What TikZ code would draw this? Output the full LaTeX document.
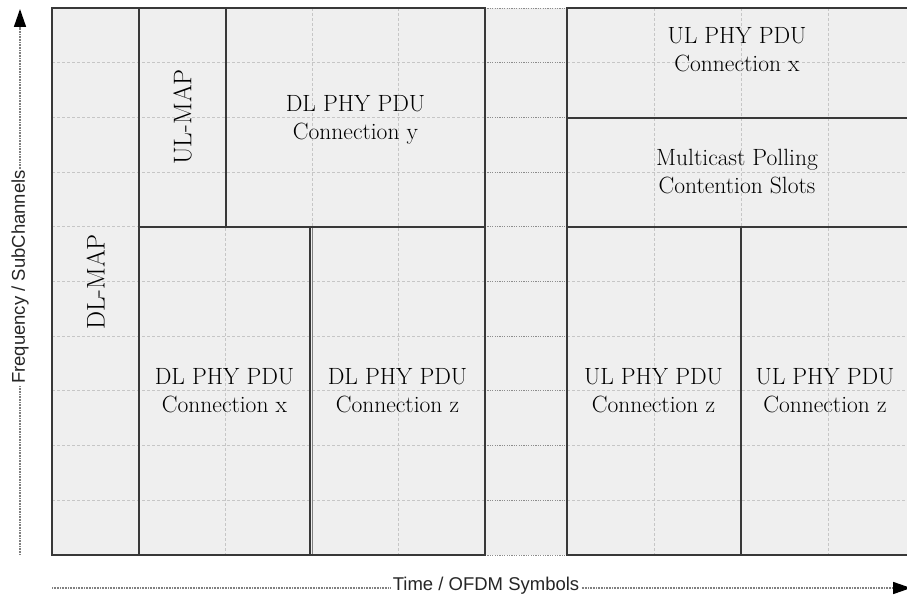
\documentclass[tikz,border=0pt]{standalone}
\usepackage{fontspec}
\newfontfamily\axisfont{Liberation Sans}
\usetikzlibrary{arrows.meta}
\definecolor{slotfill}{HTML}{EFEFEF}
\definecolor{slotline}{HTML}{383838}
\definecolor{gridgray}{HTML}{C6C6C6}
\definecolor{gapgray}{HTML}{8C8C8C}

\tikzset{
  burst/.style={draw=slotline, line width=1.4pt},
  slotgrid/.style={gridgray, line width=0.9pt, dash pattern=on 3pt off 2pt},
  gapgrid/.style={gapgray, line width=0.9pt, dash pattern=on 1.2pt off 1.2pt},
  burstlabel/.style={font=\fontsize{23.5}{28}\selectfont, align=center, text=black},
  maplabel/.style={font=\fontsize{25.5}{28}\selectfont, text=black, rotate=90},
  axislabel/.style={font=\axisfont\fontsize{18.5}{20}\selectfont, fill=white, inner sep=1.5pt, text=black!85},
  axisline/.style={gray, line width=1.6pt, dash pattern=on 1pt off 0.6pt,
    -{Triangle[length=18pt, width=12pt, black]}}
}

\begin{document}
\begin{tikzpicture}[x=1pt, y=-1pt]
  \useasboundingbox (0,0) rectangle (907,596);

  % background of the frame
  \fill[slotfill] (52,8) rectangle (915,555);

  % grid: downlink part
  \foreach \gx in {138.7,225.4,312.1,398.8}
    \draw[slotgrid] (\gx,8) -- (\gx,555);
  \foreach \gy in {62.7,117.4,172.1,226.8,281.5,336.2,390.9,445.6,500.3}
    \draw[slotgrid] (52,\gy) -- (485,\gy);
  % grid: uplink part
  \foreach \gx in {654,741,828}
    \draw[slotgrid] (\gx,8) -- (\gx,555);
  \foreach \gy in {62.7,117.4,172.1,226.8,281.5,336.2,390.9,445.6,500.3}
    \draw[slotgrid] (567,\gy) -- (915,\gy);
  % grid: gap between subframes
  \foreach \gy in {8,62.7,117.4,172.1,226.8,281.5,336.2,390.9,445.6,500.3,555}
    \draw[gapgrid] (485,\gy) -- (567,\gy);

  % Downlink subframe
  \draw[burst] (52,8) rectangle (139,555);
  \draw[burst] (139,8) rectangle (226,227);
  \draw[burst] (226,8) rectangle (485,227);
  \draw[burst] (139,227) rectangle (310,555);
  \draw[burst] (310,227) rectangle (485,555);
  \draw[gray, line width=0.8pt] (312.6,228) -- (312.6,554);

  % Uplink subframe
  \draw[burst] (567,8) rectangle (915,118);
  \draw[burst] (567,118) rectangle (915,227);
  \draw[burst] (567,227) rectangle (741,555);
  \draw[burst] (741,227) rectangle (915,555);

  % labels
  \node[maplabel] (dlmap) at (95.5,282) {DL-MAP};
  \node[maplabel] (ulmap) at (182.5,117) {UL-MAP};
  \node[burstlabel] (dly) at (355.5,120) {DL PHY PDU\\Connection y};
  \node[burstlabel] (dlx) at (224.5,391) {DL PHY PDU\\Connection x};
  \node[burstlabel] (dlz) at (397.5,391) {DL PHY PDU\\Connection z};
  \node[burstlabel] (ulx) at (737,50) {UL PHY PDU\\Connection x};
  \node[burstlabel] (poll) at (737,172) {Multicast Polling\\Contention Slots};
  \node[burstlabel] (ulza) at (653.5,391) {UL PHY PDU\\Connection z};
  \node[burstlabel] (ulzb) at (825,391) {UL PHY PDU\\Connection z};

  % axes
  \coordinate (freqlow) at (20,555);
  \coordinate (freqhigh) at (20,9);
  \coordinate (timelow) at (52,588);
  \coordinate (timehigh) at (911,588);
  \draw[axisline] (freqlow) -- (freqhigh);
  \draw[axisline] (timelow) -- (timehigh);
  \node[axislabel, rotate=90] (freq) at (20,277) {Frequency / SubChannels};
  \node[axislabel] (time) at (486,586) {Time / OFDM Symbols};
\end{tikzpicture}
\end{document}
